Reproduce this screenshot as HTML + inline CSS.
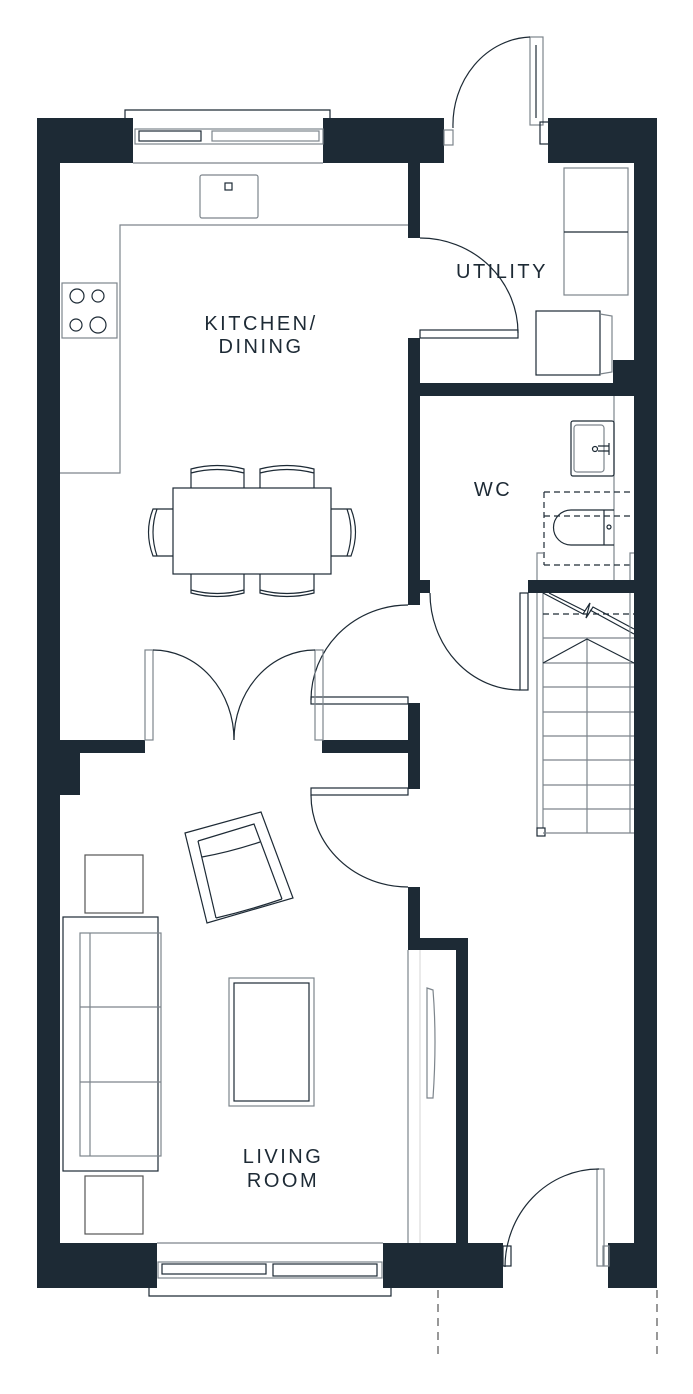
<!DOCTYPE html>
<html><head><meta charset="utf-8"><style>
html,body{margin:0;padding:0;background:#fff}
svg{display:block}
text{font-family:"Liberation Sans",sans-serif;font-size:20px;letter-spacing:2.5px;fill:#1d2a35;text-anchor:middle}
</style></head><body>
<svg width="693" height="1394" viewBox="0 0 693 1394" xmlns="http://www.w3.org/2000/svg">
<g fill="#1d2a35">
<rect x="37" y="118" width="23" height="1170"/>
<rect x="634" y="118" width="23" height="1170"/>
<rect x="37" y="118" width="96" height="45"/>
<rect x="323" y="118" width="121" height="45"/>
<rect x="548" y="118" width="109" height="45"/>
<rect x="37" y="1243" width="120" height="45"/>
<rect x="383" y="1243" width="120" height="45"/>
<rect x="608" y="1243" width="49" height="45"/>
<rect x="408" y="163" width="12" height="75"/>
<rect x="408" y="338" width="12" height="267"/>
<rect x="420" y="383" width="214" height="13"/>
<rect x="613" y="360" width="21" height="24"/>
<rect x="420" y="580" width="10" height="13"/>
<rect x="528" y="580" width="106" height="13"/>
<rect x="60" y="740" width="85" height="13"/>
<rect x="60" y="753" width="20" height="42"/>
<rect x="322" y="740" width="86" height="13"/>
<rect x="408" y="703" width="12" height="86"/>
<rect x="408" y="887" width="12" height="63"/>
<rect x="408" y="938" width="60" height="12"/>
<rect x="456" y="938" width="12" height="305"/>
</g>
<g fill="none" stroke="#1d2a35" stroke-width="1.2">
<path d="M125 118 V110 H330 V118"/>
<rect x="135" y="129" width="188" height="15" stroke="#7d858c"/>
<rect x="139" y="131" width="62" height="10"/>
<rect x="212" y="131" width="107" height="10" stroke="#7d858c"/>
<line x1="133" y1="163" x2="323" y2="163" stroke="#7d858c"/>
<path d="M149 1288 V1296 H391 V1288"/>
<rect x="158" y="1262" width="224" height="16" stroke="#7d858c"/>
<rect x="162" y="1264" width="104" height="10"/>
<rect x="273" y="1264" width="104" height="12"/>
<line x1="157" y1="1243" x2="383" y2="1243" stroke="#7d858c"/>
<rect x="530" y="37" width="13" height="88" stroke="#7d858c"/>
<line x1="536" y1="45" x2="536" y2="118"/>
<path d="M530 37 A80 88 0 0 0 453 128"/>
<rect x="444" y="130" width="9" height="15" stroke="#7d858c"/>
<rect x="540" y="122" width="9" height="22"/>
<rect x="420" y="330" width="98" height="8"/>
<path d="M420 238 A98 95 0 0 1 518 333"/>
<rect x="520" y="593" width="8" height="97"/>
<path d="M430 593 A90 97 0 0 0 520 690"/>
<rect x="311" y="697" width="97" height="7"/>
<path d="M408 605 A97 95 0 0 0 311 700"/>
<rect x="145" y="650" width="8" height="90" stroke="#7d858c"/>
<rect x="315" y="650" width="8" height="90" stroke="#7d858c"/>
<path d="M153 650 A81 90 0 0 1 234 740"/>
<path d="M315 650 A81 90 0 0 0 234 740"/>
<rect x="311" y="788" width="97" height="7"/>
<path d="M311 795 A97 92 0 0 0 408 887"/>
<rect x="597" y="1169" width="7" height="97" stroke="#7d858c"/>
<path d="M599 1169 A94 98 0 0 0 505 1267"/>
<rect x="503" y="1246" width="8" height="20"/>
<rect x="603" y="1246" width="6" height="20" stroke="#7d858c"/>
<path d="M438 1290 V1360 M657 1290 V1360" stroke-dasharray="8 6" stroke="#555"/>
<path d="M408 225 H120 V473 H60" stroke="#7d858c"/>
<rect x="200" y="175" width="58" height="43" rx="2" stroke="#7d858c"/>
<rect x="225" y="183" width="7" height="7"/>
<rect x="62" y="283" width="55" height="55" stroke="#7d858c"/>
<circle cx="77" cy="296" r="7"/><circle cx="98" cy="296" r="6"/>
<circle cx="76" cy="325" r="6"/><circle cx="98" cy="325" r="8"/>
<rect x="173" y="488" width="158" height="86"/>
<path d="M191 488 V469 Q217 462 244 469 V488 M191 473 Q217 466 244 473"/>
<path d="M260 488 V469 Q287 462 314 469 V488 M260 473 Q287 466 314 473"/>
<path d="M191 574 V593 Q217 600 244 593 V574 M191 590 Q217 597 244 590"/>
<path d="M260 574 V593 Q287 600 314 593 V574 M260 590 Q287 597 314 590"/>
<path d="M173 509 H153 Q144 532 153 556 H173 M157 509 Q149 532 157 556"/>
<path d="M331 509 H351 Q360 532 351 556 H331 M347 509 Q355 532 347 556"/>
<rect x="564" y="168" width="64" height="127" stroke="#7d858c"/>
<line x1="564" y1="232" x2="628" y2="232"/>
<rect x="536" y="311" width="64" height="64"/>
<path d="M600 314 L612 316 V372 L600 374" stroke="#7d858c"/>
<line x1="614" y1="396" x2="614" y2="580" stroke="#7d858c"/>
<rect x="571" y="421" width="43" height="55" rx="2"/>
<rect x="574" y="425" width="30" height="47" rx="3" stroke="#7d858c"/>
<circle cx="595" cy="449" r="2.5"/>
<path d="M598 446 H609 M598 451 H609 M609 443 V455"/>
<path d="M544 492 V565 M544 492 H632 M544 516 H632 M544 565 H632" stroke-dasharray="6 4"/>
<path d="M614 510 H571 A17 17 0 0 0 571 545 H614 M604 510 V545"/>
<circle cx="609" cy="527" r="2"/>
<path d="M537 580 V553 H544 M630 580 V553 H634" stroke="#7d858c"/>
<path d="M537 593 V828 M543 593 V828" stroke="#7d858c"/>
<rect x="537" y="828" width="8" height="8"/>
<path d="M543 638 H634 M543 663 H634 M543 687 H634 M543 712 H634 M543 736 H634 M543 760 H634 M543 785 H634 M543 809 H634 M543 833 H634" stroke="#7d858c"/>
<line x1="587" y1="639" x2="587" y2="833" stroke="#7d858c"/>
<path d="M543 663 L587 639 L634 663"/>
<path d="M543 614 H634" stroke-dasharray="6 4"/>
<path d="M543 593 L583 614 L590 603 L586 618 L593 607 L634 629 M549 593 L585 611 M590 610 L634 634"/>
<line x1="630" y1="593" x2="630" y2="833" stroke="#7d858c"/>
<polygon points="185,833 261,812 293,898 207,923"/>
<polyline points="198,841 254,824 282,899"/>
<line x1="198" y1="841" x2="216" y2="918"/>
<path d="M202 857 Q230 852 260 842"/>
<path d="M216 918 Q250 910 282 899"/>
<rect x="85" y="855" width="58" height="58" stroke="#555"/>
<rect x="85" y="1176" width="58" height="58" stroke="#555"/>
<rect x="63" y="917" width="95" height="254"/>
<rect x="80" y="933" width="81" height="223" stroke="#7d858c"/>
<line x1="90" y1="933" x2="90" y2="1156" stroke="#7d858c"/>
<path d="M80 1007 H161 M80 1082 H161" stroke="#7d858c"/>
<rect x="229" y="978" width="85" height="128" stroke="#7d858c"/>
<rect x="234" y="983" width="75" height="118"/>
<line x1="408" y1="950" x2="408" y2="1243" stroke="#7d858c"/>
<line x1="420" y1="950" x2="420" y2="1243" stroke="#ddd"/>
<path d="M427 988 L433 990 Q437 1040 433 1098 H427 Z" stroke="#7d858c"/>
</g>
<text x="261" y="330">KITCHEN/</text>
<text x="261" y="353">DINING</text>
<text x="502" y="278">UTILITY</text>
<text x="493" y="496">WC</text>
<text x="283" y="1163">LIVING</text>
<text x="283" y="1187">ROOM</text>
</svg>
</body></html>
